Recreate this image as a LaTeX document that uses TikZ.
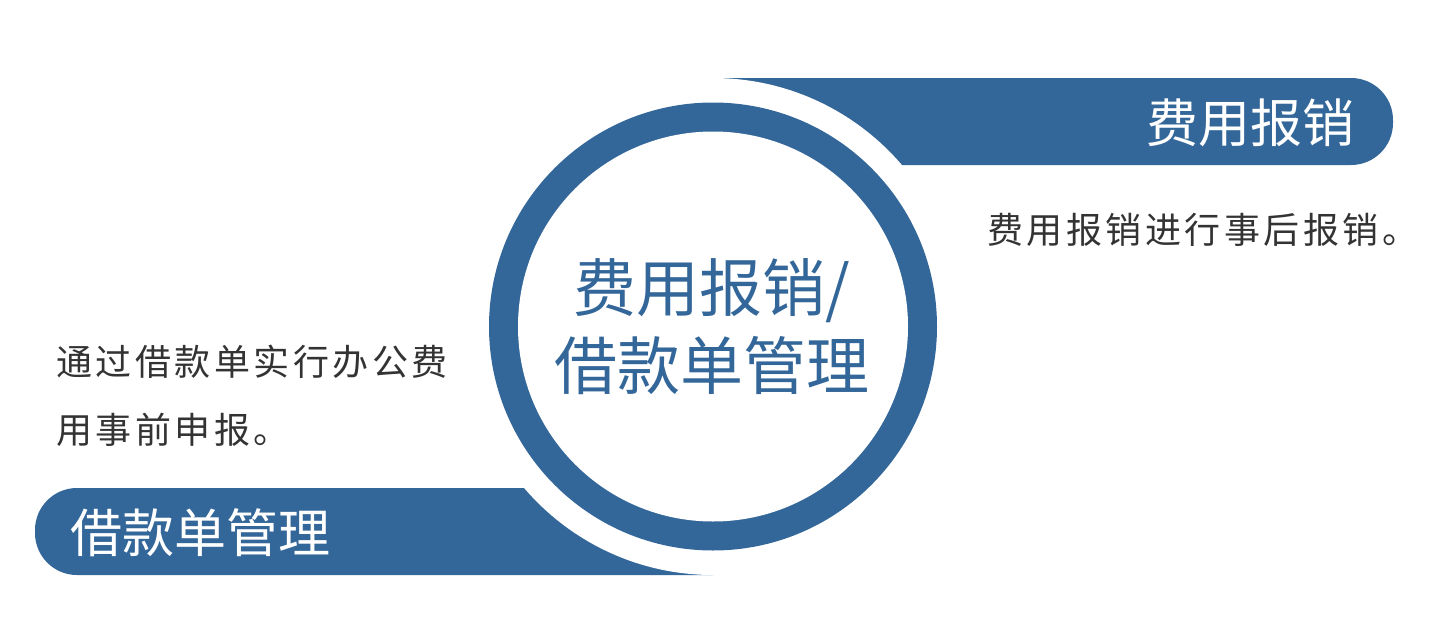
\documentclass[tikz,border=0pt]{standalone}
\usepackage{fontspec}
\newfontfamily\cjk{Noto Sans CJK SC}
\definecolor{bandblue}{HTML}{346799}
\definecolor{txtgray}{HTML}{333333}
\def\spaced#1{\ifx#1\relax\else#1\kern3.5pt\expandafter\spaced\fi}
\begin{document}
\begin{tikzpicture}[x=1pt,y=-1pt,
  desc/.style={inner sep=0pt,anchor=west,text=txtgray,font=\cjk\fontsize{36}{36}\selectfont},
  bandtext/.style={inner sep=0pt,text=white,font=\cjk\fontsize{52}{52}\selectfont},
  centertext/.style={inner sep=0pt,text=bandblue,font=\cjk\fontsize{63}{63}\selectfont}]
\useasboundingbox (0,0) rectangle (1432,632);
\fill[white] (0,0) rectangle (1432,632);
% banners
\fill[bandblue] (713,78) {[rounded corners=42] -- (1393,78) -- (1393,165)} -- (713,165) -- cycle;
\fill[bandblue] (713,488) {[rounded corners=42] -- (35,488) -- (35,575)} -- (713,575) -- cycle;
% white gap circle
\fill[white] (713,326.5) circle[radius=248.5];
% ring
\fill[bandblue] (713,326.5) circle[radius=224];
\fill[white] (713,326.5) circle[radius=195];
\coordinate (c) at (713,326.5);
% texts
\node[bandtext,anchor=east] (t1) at (1355,123) {费用报销};
\node[bandtext,anchor=west] (t2) at (70,533) {借款单管理};
\node[centertext] (m1) at (712,291) {费用报销/};
\node[centertext] (m2) at (712,366) {借款单管理};
\node[desc] (d1) at (987,230) {\spaced 费用报销进行事后报销。\relax};
\node[desc] (d2) at (56,362) {\spaced 通过借款单实行办公费\relax};
\node[desc] (d3) at (56,430) {\spaced 用事前申报。\relax};
\end{tikzpicture}
\end{document}
